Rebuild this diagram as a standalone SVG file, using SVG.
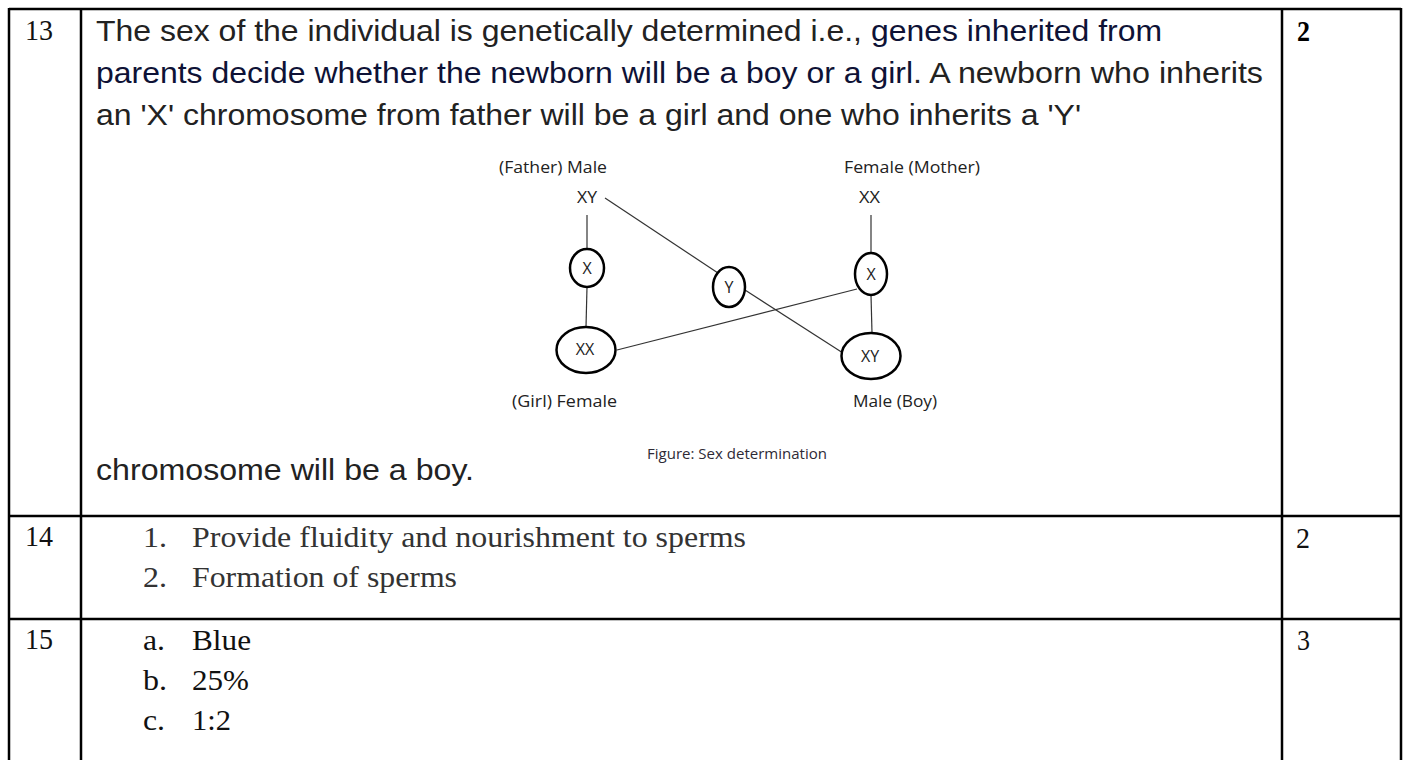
<svg xmlns="http://www.w3.org/2000/svg" width="1409" height="760" viewBox="0 0 1409 760">
<style>
.grid{stroke:#000;stroke-width:2.5;fill:none}
.ar{font-family:"Liberation Sans",Arial,sans-serif;font-size:29px}
.gray{fill:#222}
.navy{fill:#0e1236}
.tm{font-family:"Liberation Serif","Times New Roman",serif;font-size:30px}
.lbl{font-family:"Open Sans","Noto Sans",sans-serif;font-size:16px;fill:#222}
.cap{font-family:"Open Sans","Noto Sans",sans-serif;font-size:14.5px;fill:#2e2a36}
.ell{fill:#fff;stroke:#000;stroke-width:2.5}
.con{stroke:#333;stroke-width:1.2;fill:none}
</style>
<rect x="0" y="0" width="1409" height="760" fill="#fff"/>
<g id="table">
<line class="grid" x1="9" y1="9" x2="1401" y2="9"/>
<line class="grid" x1="9" y1="516" x2="1401" y2="516"/>
<line class="grid" x1="9" y1="619" x2="1401" y2="619"/>
<line class="grid" x1="9" y1="8" x2="9" y2="760"/>
<line class="grid" x1="81" y1="8" x2="81" y2="760"/>
<line class="grid" x1="1282" y1="8" x2="1282" y2="760"/>
<line class="grid" x1="1401" y1="8" x2="1401" y2="760"/>
</g>
<g id="row13">
<text class="tm" x="25" y="40" fill="#111" textLength="28" lengthAdjust="spacingAndGlyphs">13</text>
<text class="ar gray" x="96" y="41" textLength="766" lengthAdjust="spacingAndGlyphs">The sex of the individual is genetically determined i.e.,</text>
<text class="ar navy" x="871" y="41" textLength="291" lengthAdjust="spacingAndGlyphs">genes inherited from</text>
<text class="ar navy" x="96" y="83" textLength="817" lengthAdjust="spacingAndGlyphs">parents decide whether the newborn will be a boy or a girl</text>
<text class="ar gray" x="913" y="83" textLength="350" lengthAdjust="spacingAndGlyphs">. A newborn who inherits</text>
<text class="ar gray" x="96" y="124.5" textLength="985" lengthAdjust="spacingAndGlyphs">an 'X' chromosome from father will be a girl and one who inherits a 'Y'</text>
<text class="ar gray" x="96" y="480" textLength="378" lengthAdjust="spacingAndGlyphs">chromosome will be a boy.</text>
<text class="tm" x="1297" y="41" fill="#000" font-weight="bold" textLength="13" lengthAdjust="spacingAndGlyphs">2</text>
</g>
<g id="connectors">
<line class="con" x1="587" y1="215" x2="587" y2="249"/>
<line class="con" x1="587" y1="287" x2="586" y2="327"/>
<line class="con" x1="605" y1="198" x2="718" y2="273"/>
<line class="con" x1="745" y1="290" x2="843" y2="353"/>
<line class="con" x1="871" y1="215" x2="871" y2="253"/>
<line class="con" x1="871" y1="295" x2="872" y2="333"/>
<line class="con" x1="617" y1="350" x2="857" y2="289"/>
</g>
<g id="father">
<text class="lbl" x="499" y="173" textLength="108" lengthAdjust="spacingAndGlyphs">(Father) Male</text>
<text class="lbl" x="577" y="203" textLength="20" lengthAdjust="spacingAndGlyphs">XY</text>
</g>
<g id="mother">
<text class="lbl" x="844" y="173" textLength="136" lengthAdjust="spacingAndGlyphs">Female (Mother)</text>
<text class="lbl" x="859" y="203" textLength="21" lengthAdjust="spacingAndGlyphs">XX</text>
</g>
<g id="gamete-x-father">
<ellipse class="ell" cx="587" cy="268" rx="17" ry="19"/>
<text class="lbl" x="587" y="274" text-anchor="middle">X</text>
</g>
<g id="gamete-y">
<ellipse class="ell" cx="729" cy="287" rx="16" ry="20"/>
<text class="lbl" x="729" y="293" text-anchor="middle">Y</text>
</g>
<g id="gamete-x-mother">
<ellipse class="ell" cx="871" cy="274" rx="16" ry="21"/>
<text class="lbl" x="871" y="280" text-anchor="middle">X</text>
</g>
<g id="girl">
<ellipse class="ell" cx="586" cy="350" rx="29.5" ry="23"/>
<text class="lbl" x="585" y="355" text-anchor="middle">XX</text>
<text class="lbl" x="512" y="407" textLength="105" lengthAdjust="spacingAndGlyphs">(Girl) Female</text>
</g>
<g id="boy">
<ellipse class="ell" cx="871" cy="356" rx="29.5" ry="23"/>
<text class="lbl" x="870" y="362" text-anchor="middle">XY</text>
<text class="lbl" x="853" y="407" textLength="84" lengthAdjust="spacingAndGlyphs">Male (Boy)</text>
</g>
<g id="caption">
<text class="cap" x="647" y="459" textLength="180" lengthAdjust="spacingAndGlyphs">Figure: Sex determination</text>
</g>
<g id="row14">
<text class="tm" x="25" y="546" fill="#111" textLength="28" lengthAdjust="spacingAndGlyphs">14</text>
<text class="tm" x="143" y="547" fill="#333" textLength="24" lengthAdjust="spacingAndGlyphs">1.</text>
<text class="tm" x="192" y="547" fill="#333" textLength="554" lengthAdjust="spacingAndGlyphs">Provide fluidity and nourishment to sperms</text>
<text class="tm" x="143" y="587" fill="#333" textLength="24" lengthAdjust="spacingAndGlyphs">2.</text>
<text class="tm" x="192" y="587" fill="#333" textLength="265" lengthAdjust="spacingAndGlyphs">Formation of sperms</text>
<text class="tm" x="1296" y="548" fill="#111" textLength="14" lengthAdjust="spacingAndGlyphs">2</text>
</g>
<g id="row15">
<text class="tm" x="25" y="649" fill="#111" textLength="28" lengthAdjust="spacingAndGlyphs">15</text>
<text class="tm" x="143" y="650" fill="#111" textLength="22" lengthAdjust="spacingAndGlyphs">a.</text>
<text class="tm" x="192" y="650" fill="#111" textLength="59" lengthAdjust="spacingAndGlyphs">Blue</text>
<text class="tm" x="143" y="690" fill="#111" textLength="24" lengthAdjust="spacingAndGlyphs">b.</text>
<text class="tm" x="192" y="690" fill="#111" textLength="57" lengthAdjust="spacingAndGlyphs">25%</text>
<text class="tm" x="143" y="730" fill="#111" textLength="22" lengthAdjust="spacingAndGlyphs">c.</text>
<text class="tm" x="192" y="730" fill="#111" textLength="39" lengthAdjust="spacingAndGlyphs">1:2</text>
<text class="tm" x="1297" y="650" fill="#111" textLength="13" lengthAdjust="spacingAndGlyphs">3</text>
</g>
</svg>
